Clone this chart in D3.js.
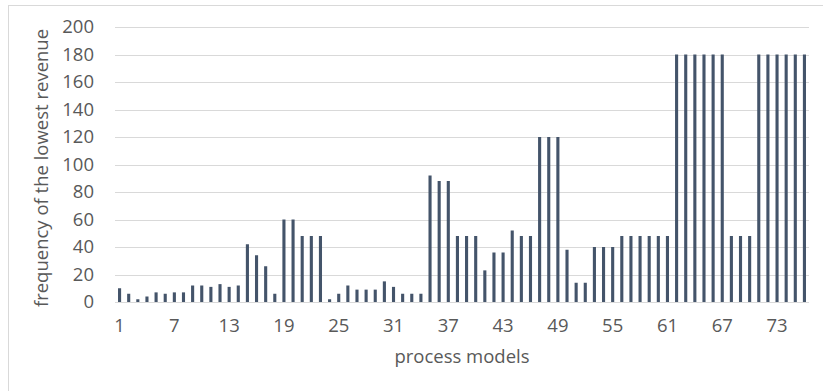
<!DOCTYPE html>
<html>
<head>
<meta charset="utf-8">
<script src="https://cdn.jsdelivr.net/npm/d3@7"></script>
<style>
  body { margin: 0; background: #fff; }
  text { font-family: "Open Sans", sans-serif; fill: #595959; }
</style>
</head>
<body>
<svg id="chart" width="823" height="391"></svg>
<script>
// data
const models = d3.range(1, 77);
const frequency = [
    10, 6, 2, 4, 7, 6, 7, 7, 12, 12,
    11, 13, 11, 12, 42, 34, 26, 6, 60, 60,
    48, 48, 48, 2, 6, 12, 9, 9, 9, 15,
    11, 6, 6, 6, 92, 88, 88, 48, 48, 48,
    23, 36, 36, 52, 48, 48, 120, 120, 120, 38,
    14, 14, 40, 40, 40, 48, 48, 48, 48, 48,
    48, 180, 180, 180, 180, 180, 180, 48, 48, 48,
    180, 180, 180, 180, 180, 180
];
const xTickLabels = [1, 7, 13, 19, 25, 31, 37, 43, 49, 55, 61, 67, 73];
const yTicks = [0, 20, 40, 60, 80, 100, 120, 140, 160, 180, 200];

(() => {
    const svg = d3.select("svg#chart");
    const plot = { left: 115, right: 809, top: 27, bottom: 302 };
    const fontSize = 18.5;

    // chart frame
    svg.append("rect")
        .attr("x", 8.5).attr("y", 5.5)
        .attr("width", 830).attr("height", 400)
        .attr("fill", "none")
        .attr("stroke", "#d9d9d9");

    const xScale = d3.scaleBand()
        .domain(models)
        .range([plot.left, plot.right])
        .paddingInner(0.66)
        .paddingOuter(0.33);

    const yScale = d3.scaleLinear()
        .domain([0, 200])
        .range([plot.bottom, plot.top]);

    // gridlines
    const yGrid = d3.axisLeft(yScale)
        .tickValues(yTicks)
        .tickSize(-(plot.right - plot.left))
        .tickFormat("");
    svg.append("g")
        .attr("transform", `translate(${plot.left}, 0)`)
        .call(yGrid)
        .call(g => g.select(".domain").remove())
        .call(g => g.selectAll("line").attr("stroke", "#d9d9d9").attr("shape-rendering", "crispEdges"));

    // y labels
    const yAxis = d3.axisLeft(yScale)
        .tickValues(yTicks)
        .tickSize(0)
        .tickPadding(21);
    svg.append("g")
        .attr("transform", `translate(${plot.left}, 0)`)
        .call(yAxis)
        .call(g => g.select(".domain").remove())
        .call(g => g.selectAll("text")
            .attr("font-size", fontSize)
            .attr("font-family", "Open Sans")
            .attr("fill", "#595959"));

    // bars
    svg.append("g")
        .selectAll("rect")
        .data(frequency)
        .enter()
        .append("rect")
        .attr("x", (d, i) => xScale(models[i]))
        .attr("y", d => yScale(d))
        .attr("width", xScale.bandwidth())
        .attr("height", d => yScale(0) - yScale(d))
        .attr("fill", "#44546a");

    // x axis
    const xAxis = d3.axisBottom(xScale)
        .tickValues(xTickLabels)
        .tickSize(0)
        .tickPadding(17);
    svg.append("g")
        .attr("transform", `translate(0, ${plot.bottom})`)
        .call(xAxis)
        .call(g => g.select(".domain")
            .attr("stroke", "#d9d9d9")
            .attr("d", `M${plot.left},0.5H${plot.right}`))
        .call(g => g.selectAll("text")
            .attr("font-size", fontSize)
            .attr("font-family", "Open Sans")
            .attr("fill", "#595959"));

    // axis titles
    svg.append("text")
        .attr("x", (plot.left + plot.right) / 2)
        .attr("y", 363)
        .attr("text-anchor", "middle")
        .attr("font-size", fontSize)
        .text("process models");

    svg.append("text")
        .attr("transform", "translate(48, 168) rotate(-90)")
        .attr("text-anchor", "middle")
        .attr("font-size", fontSize)
        .text("frequency of the lowest revenue");
})();
</script>
</body>
</html>
